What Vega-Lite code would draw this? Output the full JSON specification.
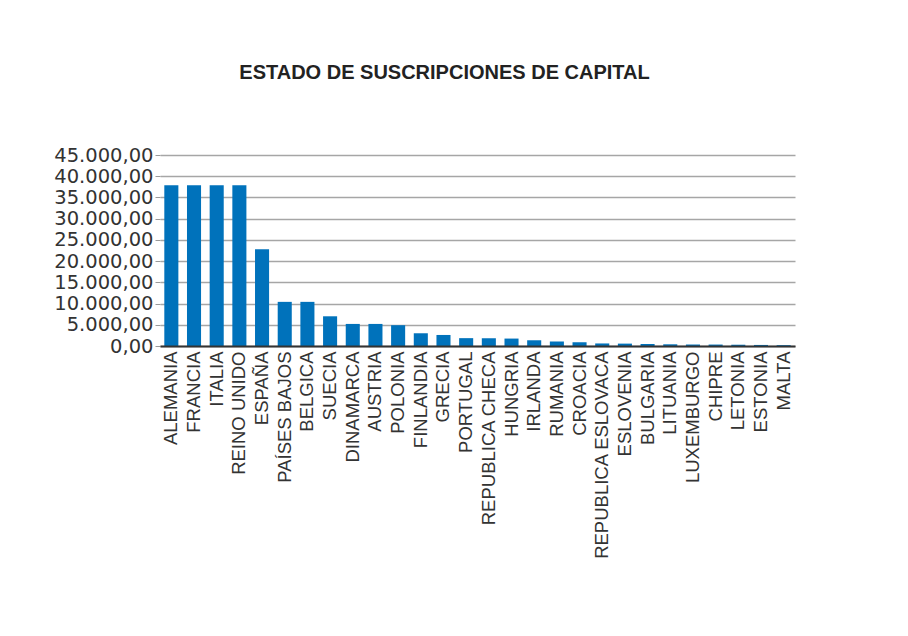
{
  "$schema": "https://vega.github.io/schema/vega-lite/v6.json",
  "autosize": "none",
  "width": 635,
  "height": 191,
  "padding": {"left": 160, "top": 155, "right": 113, "bottom": 290},
  "background": "white",
  "title": {
    "text": "ESTADO DE SUSCRIPCIONES DE CAPITAL",
    "font": "Liberation Sans",
    "fontSize": 20,
    "fontWeight": "bold",
    "color": "#222222",
    "anchor": "middle",
    "frame": "group",
    "dx": -33,
    "baseline": "alphabetic",
    "offset": 46
  },
  "data": {
    "values": [
      {"pais": "ALEMANIA", "capital": 37900},
      {"pais": "FRANCIA", "capital": 37900},
      {"pais": "ITALIA", "capital": 37900},
      {"pais": "REINO UNIDO", "capital": 37900},
      {"pais": "ESPAÑA", "capital": 22800},
      {"pais": "PAÍSES BAJOS", "capital": 10400},
      {"pais": "BELGICA", "capital": 10400},
      {"pais": "SUECIA", "capital": 7000},
      {"pais": "DINAMARCA", "capital": 5200},
      {"pais": "AUSTRIA", "capital": 5200},
      {"pais": "POLONIA", "capital": 4900},
      {"pais": "FINLANDIA", "capital": 3000},
      {"pais": "GRECIA", "capital": 2600},
      {"pais": "PORTUGAL", "capital": 1850},
      {"pais": "REPUBLICA CHECA", "capital": 1800},
      {"pais": "HUNGRIA", "capital": 1750},
      {"pais": "IRLANDA", "capital": 1350},
      {"pais": "RUMANIA", "capital": 1050},
      {"pais": "CROACIA", "capital": 900},
      {"pais": "REPUBLICA ESLOVACA", "capital": 600},
      {"pais": "ESLOVENIA", "capital": 560},
      {"pais": "BULGARIA", "capital": 450},
      {"pais": "LITUANIA", "capital": 400},
      {"pais": "LUXEMBURGO", "capital": 350},
      {"pais": "CHIPRE", "capital": 340},
      {"pais": "LETONIA", "capital": 300},
      {"pais": "ESTONIA", "capital": 250},
      {"pais": "MALTA", "capital": 200}
    ]
  },
  "mark": {"type": "bar", "color": "#0072bb"},
  "encoding": {
    "x": {
      "field": "pais",
      "type": "nominal",
      "sort": null,
      "scale": {"paddingInner": 0.38, "paddingOuter": 0.19},
      "axis": {
        "title": null,
        "labelAngle": 270,
        "labelAlign": "right",
        "labelBaseline": "middle",
        "labelFont": "Liberation Sans",
        "labelFontSize": 18.5,
        "labelColor": "#333333",
        "labelPadding": 5,
        "labelLimit": 0,
        "ticks": false,
        "domain": true,
        "domainColor": "#333333",
        "domainWidth": 2,
        "grid": false,
        "zindex": 2
      }
    },
    "y": {
      "field": "capital",
      "type": "quantitative",
      "scale": {"domain": [0, 45000], "nice": false},
      "axis": {
        "title": null,
        "values": [0, 5000, 10000, 15000, 20000, 25000, 30000, 35000, 40000, 45000],
        "format": ",.2f",
        "labelFont": "DejaVu Sans",
        "labelFontSize": 19.5,
        "labelColor": "#333333",
        "labelPadding": 2,
        "ticks": true,
        "tickSize": 5,
        "tickColor": "#999999",
        "domain": false,
        "grid": true,
        "gridColor": "#a6a6a6",
        "gridWidth": 1.5
      }
    }
  },
  "config": {
    "locale": {
      "number": {"decimal": ",", "thousands": ".", "grouping": [3], "currency": ["", " €"]}
    },
    "view": {"stroke": null}
  }
}
